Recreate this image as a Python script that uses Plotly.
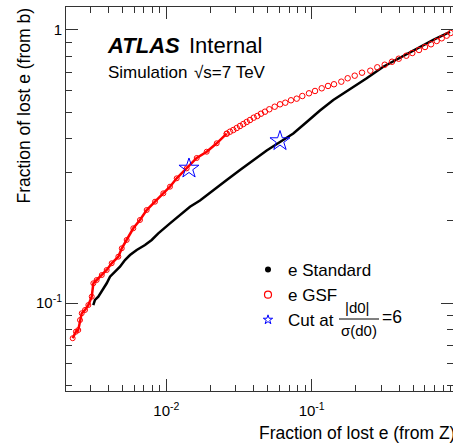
import plotly.graph_objects as go

# e Standard (black dots)
std_x = [0.003147, 0.003233, 0.003406, 0.003595, 0.003687, 0.003892, 0.004101, 0.004438,
         0.004803, 0.005197, 0.005627, 0.006258, 0.007138, 0.007935, 0.00881, 0.0106,
         0.01242, 0.01455, 0.01705, 0.02105, 0.02603, 0.03213, 0.03965, 0.04903, 0.06053,
         0.07471, 0.0924, 0.1140, 0.1408, 0.1834, 0.2389, 0.3107, 0.4048, 0.5274, 0.6860, 0.8937]
std_y = [0.0983, 0.1026, 0.1055, 0.1100, 0.1132, 0.1181, 0.1248, 0.1302, 0.1358, 0.1437,
         0.1499, 0.1563, 0.1631, 0.1702, 0.1800, 0.1958, 0.2101, 0.2253, 0.2374, 0.2594,
         0.2822, 0.3071, 0.3327, 0.3619, 0.3888, 0.4177, 0.4603, 0.5072, 0.5541, 0.6053,
         0.6655, 0.7336, 0.7917, 0.8570, 0.9191, 0.9833]

# e GSF (red open circles), dense part first
gsf_x = [0.00227, 0.00239, 0.00248, 0.00255, 0.00262, 0.00276, 0.00291, 0.00307, 0.00315,
         0.00332, 0.00360, 0.00389, 0.00421, 0.00468, 0.00494, 0.00534, 0.00593, 0.00659,
         0.00733, 0.00836, 0.00954, 0.0106, 0.01179, 0.01381, 0.01619, 0.01896, 0.02221,
         0.02603, 0.02743, 0.02889, 0.03050, 0.03213, 0.03385, 0.03573, 0.03764, 0.03991,
         0.04226, 0.04480, 0.04772, 0.05110, 0.05567, 0.06053, 0.06582, 0.07203, 0.07884,
         0.08617, 0.0958, 0.1054, 0.1172, 0.1295, 0.1423, 0.1598, 0.1768, 0.1976, 0.2218,
         0.2530, 0.2826, 0.3178, 0.3567, 0.3967, 0.4473, 0.4919, 0.5470, 0.6015, 0.6615,
         0.7240, 0.7837, 0.8482, 0.9036]
gsf_y = [0.0743, 0.0785, 0.0796, 0.0866, 0.0917, 0.0943, 0.0983, 0.1055, 0.1181, 0.1214,
         0.1266, 0.1321, 0.1398, 0.1478, 0.1586, 0.1702, 0.1878, 0.2014, 0.2191, 0.2350,
         0.2522, 0.2667, 0.2862, 0.3113, 0.3398, 0.3582, 0.3846,
         0.4170, 0.4242, 0.4302, 0.4375, 0.4450, 0.4525, 0.4603, 0.4681, 0.4773, 0.4842,
         0.4936, 0.5020, 0.5123, 0.5236, 0.5343, 0.5416, 0.5527, 0.5603, 0.5731, 0.5863,
         0.5979, 0.6116, 0.6237, 0.6327, 0.6467, 0.6655, 0.6802, 0.6976, 0.7094, 0.7300,
         0.7461, 0.7652, 0.7848, 0.8050, 0.8236, 0.8448, 0.8664, 0.8864, 0.9114, 0.9324,
         0.9531, 0.9750]
n_dense = 27

# |d0|/sigma(d0) = 6 working points
cut_x = [0.01432, 0.0605]
cut_y = [0.311, 0.392]

x_tickvals = [0.01, 0.1]
x_ticktext = ["10<sup>-2</sup>", "10<sup>-1</sup>"]
y_tickvals = [0.1, 1]
y_ticktext = ["10<sup>-1</sup>", "1"]

FONT = "Liberation Sans, Arial, sans-serif"
AX = "#333333"

fig = go.Figure()

fig.add_trace(go.Scatter(x=std_x, y=std_y, mode="lines",
                         line=dict(color="black", width=2.5), showlegend=False))
# dense band drawn as line + circles, joined to the first sparse circle
fig.add_trace(go.Scatter(x=gsf_x[:n_dense + 1], y=gsf_y[:n_dense + 1], mode="lines+markers",
                         line=dict(color="red", width=2.5),
                         marker=dict(symbol="circle-open", size=5, color="red", line=dict(width=1)),
                         showlegend=False))
fig.add_trace(go.Scatter(x=gsf_x[n_dense:], y=gsf_y[n_dense:], mode="markers",
                         marker=dict(symbol="circle-open", size=5.5, color="red", line=dict(width=1)),
                         showlegend=False))
fig.add_trace(go.Scatter(x=cut_x, y=cut_y, mode="markers",
                         marker=dict(symbol="star-open", size=15, color="blue", line=dict(width=1)),
                         showlegend=False))

# legend entries
fig.add_trace(go.Scatter(x=[None], y=[None], mode="markers", name="e Standard",
                         marker=dict(symbol="circle", size=6, color="black")))
fig.add_trace(go.Scatter(x=[None], y=[None], mode="markers", name="e GSF",
                         marker=dict(symbol="circle-open", size=7, color="red", line=dict(width=1.2))))
fig.add_trace(go.Scatter(x=[None], y=[None], mode="markers", name="Cut at",
                         marker=dict(symbol="star-open", size=7, color="blue", line=dict(width=1))))

axis_common = dict(type="log", showgrid=False, zeroline=False, showline=True,
                   linecolor=AX, linewidth=1, mirror="ticks", ticks="inside",
                   ticklen=12, tickcolor=AX, tickwidth=1,
                   tickfont=dict(family=FONT, size=15, color="black"),
                   minor=dict(ticks="inside", ticklen=6, tickcolor=AX, dtick="D1", showgrid=False))

fig.update_xaxes(range=[-2.6898, -0.0282], tickvals=x_tickvals, ticktext=x_ticktext,
                 ticklabelstandoff=6, **axis_common)
fig.update_yaxes(range=[-1.3223, 0.0842], tickvals=y_tickvals, ticktext=y_ticktext,
                 **axis_common)

ann = [
    dict(text="<b><i>ATLAS</i></b>", x=105, y=45, size=22),
    dict(text="Internal", x=187, y=45, size=22),
    dict(text="Simulation", x=106, y=72, size=17),
    dict(text="√s=7 TeV", x=192, y=72, size=17),
]
W, H = 453, 444
L, R, T, B = 66, 0, 7, 53
pw, ph = W - L - R, H - T - B


def px2paper(x, y):
    return (x - L) / pw, (H - B - y) / ph


for a in ann:
    xx, yy = px2paper(a["x"], a["y"])
    fig.add_annotation(text=a["text"], x=xx, y=yy, xref="paper", yref="paper",
                       xanchor="left", yanchor="middle", showarrow=False,
                       font=dict(family=FONT, size=a["size"], color="black"))

# axis titles, ROOT style (right / top aligned)
xx, yy = px2paper(457, 433)
fig.add_annotation(text="Fraction of lost e (from Z)", x=xx, y=yy, xref="paper", yref="paper",
                   xanchor="right", yanchor="middle", showarrow=False,
                   font=dict(family=FONT, size=17.5, color="black"))
xx, yy = px2paper(23, 7)
fig.add_annotation(text="Fraction of lost e (from b)", x=xx, y=yy, xref="paper", yref="paper",
                   xanchor="center", yanchor="top", textangle=-90, showarrow=False,
                   font=dict(family=FONT, size=17.5, color="black"))

# fraction part of the third legend label
xx, yy = px2paper(357, 307)
fig.add_annotation(text="|d0|", x=xx, y=yy, xref="paper", yref="paper",
                   xanchor="center", yanchor="middle", showarrow=False,
                   font=dict(family=FONT, size=15, color="black"))
xx, yy = px2paper(359, 330)
fig.add_annotation(text="σ(d0)", x=xx, y=yy, xref="paper", yref="paper",
                   xanchor="center", yanchor="middle", showarrow=False,
                   font=dict(family=FONT, size=15, color="black"))
xx, yy = px2paper(380, 317)
fig.add_annotation(text="=6", x=xx, y=yy, xref="paper", yref="paper",
                   xanchor="left", yanchor="middle", showarrow=False,
                   font=dict(family=FONT, size=17.5, color="black"))
x0, y0 = px2paper(339, 319)
x1, _ = px2paper(379, 319)
fig.add_shape(type="line", x0=x0, x1=x1, y0=y0, y1=y0, xref="paper", yref="paper",
              line=dict(color="black", width=1))

lx, ly = px2paper(248, 252)
fig.update_layout(
    width=W, height=H,
    margin=dict(l=L, r=R, t=T, b=B),
    paper_bgcolor="white", plot_bgcolor="white",
    font=dict(family=FONT, color="black"),
    legend=dict(x=lx, y=ly, xanchor="left", yanchor="top", bgcolor="rgba(0,0,0,0)",
                font=dict(family=FONT, size=17, color="black"), tracegroupgap=0),
)

fig.write_html("out.html", config={"displayModeBar": False},
               post_script="document.body.style.margin='0px';")
